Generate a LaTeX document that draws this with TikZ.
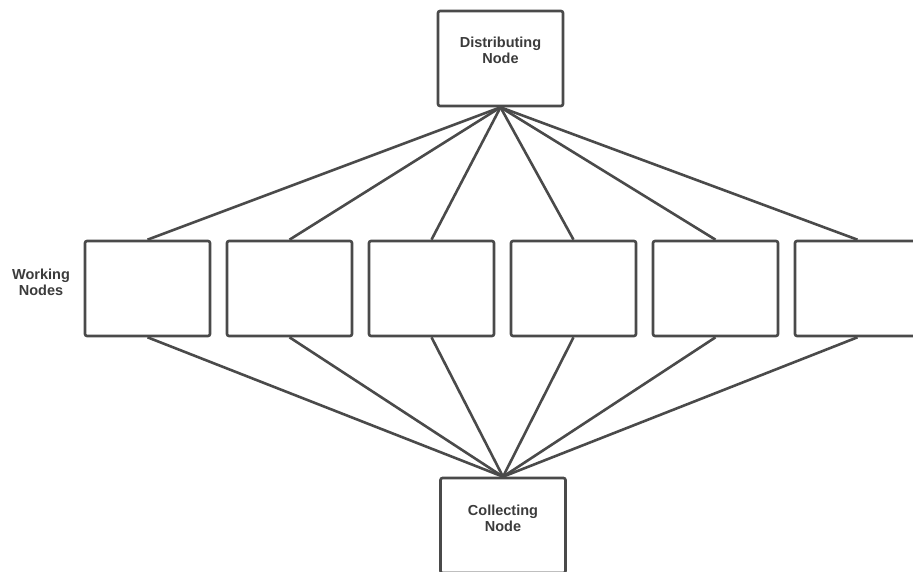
\documentclass[tikz,border=0pt]{standalone}
\usepackage{fontspec}
\setsansfont{Liberation Sans}
\definecolor{inkgray}{HTML}{4A4A4A}

\begin{document}
\begin{tikzpicture}[x = 1pt, y = 1pt, font=\sffamily\bfseries]
	\tikzstyle{boxStyle}=[shape = rectangle, minimum width = 125pt, minimum height = 95pt, inner sep = 0pt, rounded corners = 2pt, draw = inkgray, line width = 2.6pt]
	\tikzstyle{textStyle}=[align = center, inner sep = 0pt, font = \sffamily\bfseries\fontsize{14.5}{16}\selectfont, text = inkgray!80!black]
	\tikzstyle{edgeStyle}=[draw = inkgray, line width = 2.6pt]
	\useasboundingbox (0, 0) rectangle (913, 571);
	\clip (0, 0) rectangle (913, 571);
	\node[boxStyle, label = {[textStyle, yshift = 8pt]center:Distributing\\Node}] (dist) at (500.5, 512.5) {};
	\node[boxStyle] (v0) at (147.5, 282.5) {};
	\node[boxStyle] (v1) at (289.5, 282.5) {};
	\node[boxStyle] (v2) at (431.5, 282.5) {};
	\node[boxStyle] (v3) at (573.5, 282.5) {};
	\node[boxStyle] (v4) at (715.5, 282.5) {};
	\node[boxStyle] (v5) at (857.5, 282.5) {};
	\node[boxStyle, label = {[textStyle, yshift = 7pt]center:Collecting\\Node}] (coll) at (503, 45.5) {};
	\node[textStyle] (wlabel) at (41, 289) {Working\\Nodes};
	\draw[edgeStyle] (dist.south) -- (v0.north);
	\draw[edgeStyle] (dist.south) -- (v1.north);
	\draw[edgeStyle] (dist.south) -- (v2.north);
	\draw[edgeStyle] (dist.south) -- (v3.north);
	\draw[edgeStyle] (dist.south) -- (v4.north);
	\draw[edgeStyle] (dist.south) -- (v5.north);
	\draw[edgeStyle] (v0.south) -- (coll.north);
	\draw[edgeStyle] (v1.south) -- (coll.north);
	\draw[edgeStyle] (v2.south) -- (coll.north);
	\draw[edgeStyle] (v3.south) -- (coll.north);
	\draw[edgeStyle] (v4.south) -- (coll.north);
	\draw[edgeStyle] (v5.south) -- (coll.north);
\end{tikzpicture}
\end{document}
